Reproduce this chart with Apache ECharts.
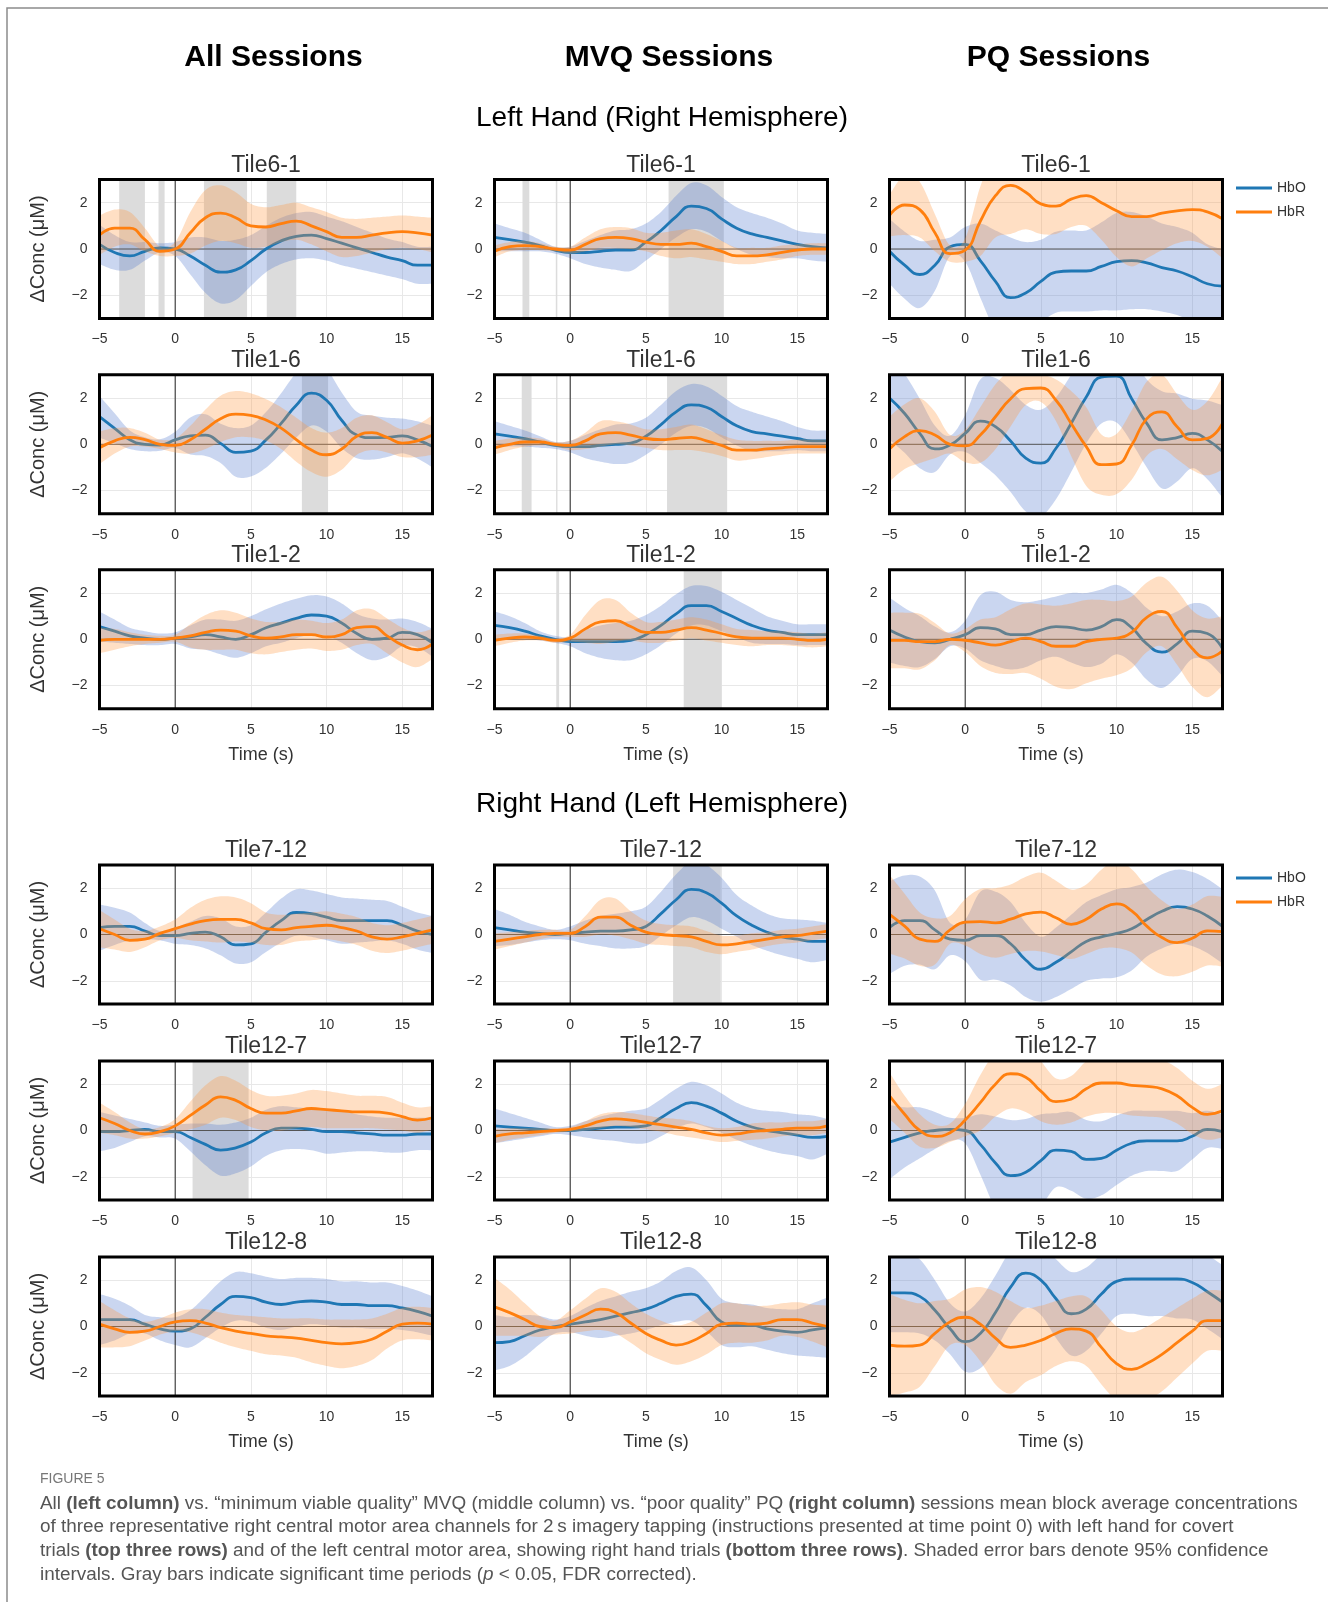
<!DOCTYPE html>
<html>
<head>
<meta charset="utf-8">
<script src="https://cdn.jsdelivr.net/npm/echarts@6/dist/echarts.min.js"></script>
<style>html,body{margin:0;padding:0;background:#fff;}#chart{width:1328px;height:1602px;}</style>
</head>
<body>
<div id="chart"></div>
<script>
// ---------- axes / labels ----------
const times = [-5,-4,-3,-2,-1,0,1,2,3,4,5,6,7,8,9,10,11,12,13,14,15,16,17];
const xTicks = [-5,0,5,10,15];
const yTicks = [-2,0,2];
const xMin = -5, xMax = 17, yMin = -3, yMax = 3;
const colTitles = ['All Sessions','MVQ Sessions','PQ Sessions'];
const sectionTitles = ['Left Hand (Right Hemisphere)','Right Hand (Left Hemisphere)'];
const rowTiles = ['Tile6-1','Tile1-6','Tile1-2','Tile7-12','Tile12-7','Tile12-8'];
const seriesNames = ['HbO','HbR'];

// ---------- Left hand, All sessions ----------
const lAll61Hbo   = [0.2,-0.15,-0.3,-0.1,0.05,0.0,-0.3,-0.7,-1.0,-0.9,-0.5,0.0,0.35,0.55,0.6,0.45,0.25,0.05,-0.15,-0.35,-0.5,-0.7,-0.7];
const lAll61HboCi = [0.85,0.75,0.6,0.4,0.2,0.3,0.8,1.2,1.35,1.3,1.1,1.0,1.0,1.0,1.0,0.95,0.95,0.9,0.85,0.8,0.8,0.8,0.8];
const lAll61Hbr   = [0.6,0.9,0.9,0.4,-0.1,0.0,0.7,1.35,1.55,1.35,1.0,0.95,1.1,1.2,1.0,0.75,0.5,0.5,0.6,0.7,0.75,0.7,0.6];
const lAll61HbrCi = [0.85,0.8,0.7,0.5,0.2,0.3,0.9,1.2,1.2,1.1,0.95,0.85,0.8,0.8,0.8,0.85,0.85,0.8,0.75,0.7,0.7,0.7,0.75];
const lAll61Bars  = [[-3.7,-2.0],[-1.1,-0.7],[1.9,4.75],[6.05,8.0]];

const lAll16Hbo   = [1.19,0.69,0.2,0.0,-0.03,0.19,0.36,0.4,0.04,-0.35,-0.29,0.19,0.9,1.69,2.21,1.9,1.04,0.4,0.29,0.3,0.36,0.19,-0.1];
const lAll16HboCi = [0.9,0.65,0.4,0.3,0.25,0.35,0.8,0.9,0.85,1.05,1.1,1.2,1.3,1.4,1.4,1.35,1.2,1.0,0.95,0.85,0.75,0.8,0.9];
const lAll16Hbr   = [-0.15,0.15,0.3,0.2,0.0,-0.05,0.2,0.65,1.1,1.3,1.25,1.05,0.7,0.2,-0.25,-0.45,-0.2,0.35,0.5,0.3,0.05,0.15,0.4];
const lAll16HbrCi = [0.7,0.55,0.4,0.3,0.2,0.3,0.6,0.85,1.0,1.0,0.95,0.9,0.9,0.95,0.95,0.95,0.9,0.8,0.75,0.65,0.6,0.7,0.85];
const lAll16Bars  = [[8.37,10.1]];

const lAll12Hbo   = [0.55,0.35,0.15,0.05,0.0,0.05,0.1,0.2,0.1,0.0,0.2,0.5,0.7,0.9,1.05,1.0,0.7,0.25,0.0,0.05,0.3,0.2,-0.15];
const lAll12HboCi = [0.65,0.5,0.35,0.3,0.25,0.25,0.5,0.65,0.75,0.8,0.8,0.8,0.85,0.85,0.85,0.85,0.85,0.85,0.9,0.8,0.6,0.55,0.6];
const lAll12Hbr   = [-0.05,0.0,0.0,0.0,0.0,0.05,0.15,0.3,0.4,0.35,0.15,0.05,0.1,0.2,0.2,0.1,0.2,0.5,0.55,0.15,-0.25,-0.45,-0.2];
const lAll12HbrCi = [0.55,0.45,0.3,0.2,0.15,0.15,0.5,0.75,0.85,0.8,0.75,0.7,0.65,0.65,0.6,0.6,0.65,0.75,0.75,0.75,0.75,0.75,0.65];
const lAll12Bars  = [];

// ---------- Left hand, MVQ sessions ----------
const lMvq61Hbo   = [0.5,0.4,0.3,0.15,-0.05,-0.15,-0.15,-0.1,-0.05,-0.05,0.3,0.8,1.4,1.85,1.75,1.3,0.9,0.65,0.5,0.35,0.2,0.1,0.05];
const lMvq61HboCi = [0.6,0.5,0.4,0.25,0.15,0.25,0.5,0.7,0.85,0.9,0.8,0.8,0.9,1.0,1.0,0.95,0.9,0.9,0.85,0.75,0.6,0.6,0.6];
const lMvq61Hbr   = [-0.1,0.1,0.15,0.1,0.0,-0.05,0.2,0.45,0.5,0.45,0.3,0.2,0.2,0.25,0.1,-0.1,-0.3,-0.3,-0.25,-0.15,-0.05,0.0,0.0];
const lMvq61HbrCi = [0.25,0.2,0.2,0.15,0.1,0.15,0.3,0.4,0.45,0.45,0.4,0.5,0.6,0.6,0.55,0.45,0.35,0.35,0.3,0.3,0.25,0.25,0.25];
const lMvq61Bars  = [[-3.15,-2.7],[-0.95,-0.85],[6.5,10.15]];

const lMvq16Hbo   = [0.45,0.35,0.25,0.1,-0.05,-0.1,-0.1,-0.05,0.0,0.05,0.35,0.85,1.4,1.7,1.6,1.2,0.8,0.55,0.45,0.35,0.25,0.15,0.15];
const lMvq16HboCi = [0.55,0.45,0.35,0.25,0.15,0.25,0.5,0.7,0.85,0.85,0.8,0.85,0.9,0.9,0.9,0.9,0.85,0.85,0.75,0.65,0.5,0.45,0.45];
const lMvq16Hbr   = [-0.15,0.0,0.1,0.1,0.0,-0.05,0.15,0.45,0.5,0.4,0.25,0.2,0.25,0.3,0.15,-0.05,-0.25,-0.25,-0.2,-0.15,-0.1,-0.1,-0.1];
const lMvq16HbrCi = [0.3,0.25,0.2,0.15,0.1,0.2,0.35,0.55,0.5,0.45,0.4,0.45,0.5,0.55,0.5,0.45,0.45,0.4,0.35,0.3,0.3,0.3,0.3];
const lMvq16Bars  = [[-3.2,-2.55],[-0.93,-0.84],[6.4,10.37]];

const lMvq12Hbo   = [0.6,0.5,0.35,0.15,0.0,-0.1,-0.1,-0.1,-0.1,-0.05,0.2,0.6,1.1,1.45,1.45,1.2,0.9,0.6,0.4,0.3,0.2,0.2,0.2];
const lMvq12HboCi = [0.6,0.5,0.35,0.2,0.15,0.2,0.5,0.7,0.8,0.85,0.85,0.85,0.85,0.85,0.85,0.85,0.8,0.75,0.6,0.5,0.45,0.45,0.45];
const lMvq12Hbr   = [-0.05,0.05,0.1,0.05,-0.05,0.05,0.45,0.75,0.8,0.55,0.3,0.3,0.4,0.5,0.4,0.25,0.1,0.05,0.05,0.05,0.0,-0.05,0.0];
const lMvq12HbrCi = [0.25,0.2,0.15,0.1,0.1,0.15,0.6,0.95,0.9,0.6,0.45,0.45,0.45,0.45,0.45,0.4,0.35,0.35,0.3,0.3,0.3,0.3,0.3];
const lMvq12Bars  = [[-0.92,-0.73],[7.5,10.0]];

// ---------- Left hand, PQ sessions ----------
const lPq61Hbo    = [-0.1,-0.7,-1.1,-0.7,0.1,0.2,-0.5,-1.4,-2.1,-1.9,-1.4,-1.0,-0.95,-0.95,-0.75,-0.55,-0.5,-0.6,-0.8,-0.95,-1.2,-1.5,-1.6];
const lPq61HboCi  = [1.4,1.45,1.45,1.1,0.4,0.75,1.6,2.2,2.6,2.2,1.8,1.75,1.75,1.75,1.9,2.1,2.1,2.0,1.9,1.9,1.9,1.7,1.6];
const lPq61Hbr    = [1.45,1.9,1.7,0.7,-0.2,-0.05,1.2,2.3,2.75,2.45,1.95,1.85,2.15,2.3,2.0,1.65,1.4,1.4,1.55,1.65,1.7,1.6,1.3];
const lPq61HbrCi  = [0.9,1.3,1.2,0.8,0.35,0.5,1.5,1.8,2.1,1.6,1.3,1.2,1.2,1.3,1.6,2.0,2.15,1.8,1.6,1.4,1.35,1.5,1.7];
const lPq61Bars   = [];

const lPq16Hbo    = [2.0,1.33,0.47,-0.2,-0.03,0.47,1.0,0.76,0.14,-0.6,-0.81,-0.17,0.9,2.04,2.9,2.94,1.97,0.9,0.19,0.29,0.47,0.19,-0.31];
const lPq16HboCi  = [1.8,1.7,1.5,1.0,0.4,0.8,1.8,2.1,2.2,2.3,2.3,2.2,2.1,2.0,2.0,2.0,1.9,1.9,2.1,1.9,1.5,1.7,2.0];
const lPq16Hbr    = [-0.2,0.33,0.59,0.4,0.0,-0.07,0.4,1.19,1.97,2.4,2.43,1.9,0.9,-0.1,-0.88,-0.85,-0.03,1.11,1.4,0.76,0.19,0.26,0.9];
const lPq16HbrCi  = [1.4,1.4,1.4,1.0,0.4,0.7,1.2,1.4,1.2,0.7,0.6,0.9,1.4,1.7,1.3,1.3,1.5,1.6,1.6,1.4,1.3,1.6,2.0];
const lPq16Bars   = [];

const lPq12Hbo    = [0.4,0.1,-0.1,-0.15,0.0,0.2,0.5,0.45,0.2,0.2,0.4,0.55,0.5,0.4,0.55,0.85,0.5,-0.2,-0.55,-0.2,0.35,0.25,-0.4];
const lPq12HboCi  = [1.4,1.25,1.1,0.7,0.3,0.6,1.4,1.6,1.5,1.4,1.3,1.3,1.5,1.6,1.6,1.5,1.5,1.55,1.55,1.4,1.2,1.2,1.2];
const lPq12Hbr    = [-0.05,-0.05,-0.1,-0.1,0.0,-0.05,-0.15,-0.25,-0.1,0.05,-0.1,-0.3,-0.3,-0.1,0.0,0.05,0.3,0.95,1.2,0.5,-0.4,-0.8,-0.5];
const lPq12HbrCi  = [1.2,1.2,1.2,0.8,0.25,0.5,1.0,1.2,1.4,1.5,1.6,1.75,1.85,1.8,1.7,1.6,1.55,1.5,1.5,1.6,1.65,1.7,1.5];
const lPq12Bars   = [];

// ---------- Right hand, All sessions ----------
const rAll712Hbo   = [0.3,0.35,0.35,0.15,-0.05,-0.05,0.05,0.1,-0.1,-0.45,-0.4,0.1,0.6,0.95,0.9,0.75,0.6,0.6,0.6,0.6,0.4,0.15,0.0];
const rAll712HboCi = [1.0,0.8,0.6,0.35,0.2,0.35,0.5,0.7,0.8,0.8,0.8,0.85,0.95,1.0,1.0,1.0,1.0,0.95,0.9,0.85,0.8,0.8,0.8];
const rAll712Hbr   = [0.25,0.0,-0.25,-0.2,0.05,0.25,0.45,0.6,0.65,0.65,0.5,0.25,0.2,0.3,0.35,0.4,0.3,0.15,-0.1,-0.2,-0.1,0.05,0.2];
const rAll712HbrCi = [0.8,0.65,0.5,0.35,0.3,0.4,0.7,0.9,1.0,0.95,0.85,0.7,0.65,0.6,0.6,0.6,0.6,0.6,0.6,0.6,0.6,0.6,0.6];
const rAll712Bars  = [];

const rAll127Hbo   = [-0.05,-0.05,0.0,0.05,-0.05,-0.05,-0.3,-0.6,-0.85,-0.75,-0.5,-0.1,0.1,0.1,0.05,-0.05,-0.05,-0.1,-0.15,-0.2,-0.2,-0.15,-0.15];
const rAll127HboCi = [0.85,0.7,0.5,0.3,0.25,0.3,0.6,0.9,1.1,1.1,1.05,1.0,0.95,0.9,0.9,0.95,0.9,0.8,0.75,0.75,0.75,0.7,0.7];
const rAll127Hbr   = [0.55,0.3,0.0,-0.15,-0.05,0.2,0.65,1.1,1.45,1.3,0.95,0.75,0.75,0.85,0.95,0.9,0.85,0.8,0.8,0.75,0.6,0.45,0.55];
const rAll127HbrCi = [0.65,0.5,0.35,0.2,0.2,0.3,0.6,0.85,0.9,0.85,0.8,0.75,0.75,0.75,0.8,0.8,0.75,0.7,0.7,0.7,0.6,0.55,0.5];
const rAll127Bars  = [[1.15,4.85]];

const rAll128Hbo   = [0.3,0.3,0.3,0.1,-0.1,-0.2,-0.1,0.4,0.95,1.3,1.25,1.05,0.95,1.05,1.1,1.05,0.95,0.95,0.9,0.9,0.8,0.65,0.45];
const rAll128HboCi = [1.1,0.9,0.6,0.4,0.5,0.6,0.8,0.9,1.0,1.05,1.05,1.1,1.1,1.05,1.0,1.0,1.0,1.0,1.0,1.0,0.95,0.9,0.85];
const rAll128Hbr   = [0.1,-0.1,-0.25,-0.2,0.0,0.2,0.25,0.15,-0.05,-0.2,-0.3,-0.4,-0.45,-0.5,-0.6,-0.7,-0.75,-0.7,-0.55,-0.2,0.1,0.15,0.1];
const rAll128HbrCi = [1.0,0.8,0.6,0.4,0.35,0.4,0.5,0.6,0.65,0.7,0.75,0.8,0.8,0.85,0.95,1.0,1.05,1.0,0.9,0.75,0.7,0.7,0.7];
const rAll128Bars  = [];

// ---------- Right hand, MVQ sessions ----------
const rMvq712Hbo   = [0.3,0.2,0.1,0.05,0.0,0.05,0.1,0.15,0.15,0.2,0.35,0.9,1.5,1.95,1.8,1.35,0.8,0.4,0.1,-0.1,-0.2,-0.3,-0.3];
const rMvq712HboCi = [0.8,0.65,0.45,0.3,0.2,0.3,0.5,0.65,0.75,0.8,0.85,0.95,1.1,1.2,1.2,1.1,0.9,0.85,0.8,0.8,0.85,0.9,0.8];
const rMvq712Hbr   = [-0.3,-0.2,-0.1,0.0,0.05,0.05,0.35,0.75,0.75,0.4,0.1,0.0,-0.05,-0.1,-0.3,-0.45,-0.4,-0.3,-0.2,-0.1,-0.05,0.05,0.15];
const rMvq712HbrCi = [0.35,0.3,0.25,0.2,0.15,0.15,0.45,0.75,0.8,0.6,0.5,0.45,0.45,0.45,0.45,0.4,0.35,0.35,0.3,0.3,0.3,0.3,0.3];
const rMvq712Bars  = [[6.8,9.95]];

const rMvq127Hbo   = [0.2,0.15,0.1,0.05,0.0,0.0,0.05,0.1,0.15,0.15,0.2,0.55,0.95,1.2,1.05,0.75,0.4,0.15,0.0,-0.1,-0.2,-0.3,-0.25];
const rMvq127HboCi = [0.75,0.6,0.45,0.3,0.15,0.2,0.35,0.5,0.6,0.7,0.75,0.8,0.85,0.9,0.9,0.85,0.8,0.8,0.85,0.9,0.9,0.95,0.75];
const rMvq127Hbr   = [-0.25,-0.15,-0.1,-0.05,0.0,0.05,0.2,0.4,0.5,0.45,0.35,0.25,0.15,0.05,-0.1,-0.2,-0.15,-0.05,0.0,0.05,0.1,0.1,0.2];
const rMvq127HbrCi = [0.3,0.25,0.2,0.15,0.1,0.1,0.2,0.3,0.3,0.3,0.3,0.3,0.35,0.35,0.3,0.3,0.3,0.35,0.35,0.3,0.3,0.3,0.3];
const rMvq127Bars  = [];

const rMvq128Hbo   = [-0.7,-0.65,-0.4,-0.15,0.0,0.1,0.2,0.3,0.45,0.6,0.75,1.0,1.3,1.4,0.9,0.2,0.05,0.05,-0.1,-0.2,-0.25,-0.15,-0.05];
const rMvq128HboCi = [1.2,1.05,0.9,0.6,0.3,0.35,0.6,0.8,0.85,0.9,0.9,0.95,1.1,1.15,1.1,1.0,0.95,0.9,0.9,0.95,1.0,1.15,1.3];
const rMvq128Hbr   = [0.85,0.6,0.3,0.0,-0.05,0.2,0.5,0.75,0.6,0.15,-0.3,-0.6,-0.8,-0.65,-0.3,0.1,0.15,0.1,0.15,0.3,0.3,0.15,0.0];
const rMvq128HbrCi = [1.25,1.0,0.7,0.45,0.3,0.5,0.7,0.9,0.9,0.85,0.85,0.85,0.85,0.85,0.9,0.9,0.85,0.8,0.75,0.7,0.75,0.8,0.9];
const rMvq128Bars  = [];

// ---------- Right hand, PQ sessions ----------
const rPq712Hbo    = [0.3,0.6,0.6,0.2,-0.2,-0.25,-0.05,-0.05,-0.4,-1.1,-1.5,-1.2,-0.75,-0.3,-0.1,0.05,0.25,0.65,1.0,1.2,1.1,0.8,0.35];
const rPq712HboCi  = [2.0,1.95,1.9,1.7,0.7,0.9,1.9,1.9,1.8,1.6,1.4,1.5,1.6,1.7,1.8,1.9,1.8,1.6,1.6,1.6,1.6,1.6,1.6];
const rPq712Hbr    = [0.87,0.36,-0.2,-0.3,0.2,0.53,0.56,0.5,0.66,0.89,0.97,0.72,0.44,0.66,1.1,1.32,1.02,0.36,-0.13,-0.35,-0.16,0.16,0.12];
const rPq712HbrCi  = [1.7,1.4,1.15,1.0,0.6,1.0,1.4,1.5,1.5,1.6,1.7,1.6,1.5,1.5,1.7,1.9,1.8,1.7,1.6,1.45,1.45,1.5,1.5];
const rPq712Bars   = [];

const rPq127Hbo    = [-0.5,-0.3,-0.1,0.0,0.05,0.0,-0.6,-1.4,-1.95,-1.8,-1.3,-0.85,-0.9,-1.25,-1.2,-0.85,-0.55,-0.45,-0.45,-0.45,-0.25,0.05,-0.05];
const rPq127HboCi  = [1.6,1.3,1.1,0.8,0.5,0.55,1.3,2.0,2.4,2.3,2.0,1.6,1.7,1.7,1.6,1.5,1.4,1.3,1.3,1.3,1.0,0.8,0.75];
const rPq127Hbr    = [1.5,0.7,0.0,-0.25,-0.1,0.45,1.2,2.0,2.45,2.3,1.7,1.25,1.35,1.8,2.05,2.05,1.95,1.9,1.8,1.5,1.0,0.7,0.85];
const rPq127HbrCi  = [1.0,0.8,0.7,0.5,0.4,0.7,1.2,1.4,1.5,1.5,1.3,1.0,1.0,1.2,1.3,1.3,1.3,1.3,1.25,1.2,1.15,1.1,1.15];
const rPq127Bars   = [];

const rPq128Hbo    = [1.45,1.45,1.3,0.7,-0.1,-0.65,-0.3,0.6,1.7,2.3,2.0,1.2,0.55,0.75,1.4,1.95,2.05,2.05,2.05,2.05,1.9,1.5,1.05];
const rPq128HboCi  = [1.7,1.7,1.6,1.3,1.1,1.3,1.5,1.6,1.6,1.5,1.5,1.7,1.8,1.8,1.7,1.5,1.5,1.6,1.6,1.7,1.6,1.6,1.6];
const rPq128Hbr    = [-0.8,-0.85,-0.8,-0.3,0.2,0.4,0.1,-0.5,-0.9,-0.8,-0.6,-0.3,-0.1,-0.2,-0.9,-1.6,-1.85,-1.6,-1.2,-0.7,-0.2,0.25,0.25];
const rPq128HbrCi  = [2.2,2.0,1.8,1.4,1.0,1.2,1.6,2.0,2.0,1.6,1.5,1.4,1.4,1.5,1.6,1.6,1.6,1.6,1.6,1.5,1.4,1.3,1.3];
const rPq128Bars   = [];

// panel table (row-major: 6 rows x 3 columns)
const panels = [
  [lAll61Hbo,lAll61HboCi,lAll61Hbr,lAll61HbrCi,lAll61Bars],
  [lMvq61Hbo,lMvq61HboCi,lMvq61Hbr,lMvq61HbrCi,lMvq61Bars],
  [lPq61Hbo,lPq61HboCi,lPq61Hbr,lPq61HbrCi,lPq61Bars],
  [lAll16Hbo,lAll16HboCi,lAll16Hbr,lAll16HbrCi,lAll16Bars],
  [lMvq16Hbo,lMvq16HboCi,lMvq16Hbr,lMvq16HbrCi,lMvq16Bars],
  [lPq16Hbo,lPq16HboCi,lPq16Hbr,lPq16HbrCi,lPq16Bars],
  [lAll12Hbo,lAll12HboCi,lAll12Hbr,lAll12HbrCi,lAll12Bars],
  [lMvq12Hbo,lMvq12HboCi,lMvq12Hbr,lMvq12HbrCi,lMvq12Bars],
  [lPq12Hbo,lPq12HboCi,lPq12Hbr,lPq12HbrCi,lPq12Bars],
  [rAll712Hbo,rAll712HboCi,rAll712Hbr,rAll712HbrCi,rAll712Bars],
  [rMvq712Hbo,rMvq712HboCi,rMvq712Hbr,rMvq712HbrCi,rMvq712Bars],
  [rPq712Hbo,rPq712HboCi,rPq712Hbr,rPq712HbrCi,rPq712Bars],
  [rAll127Hbo,rAll127HboCi,rAll127Hbr,rAll127HbrCi,rAll127Bars],
  [rMvq127Hbo,rMvq127HboCi,rMvq127Hbr,rMvq127HbrCi,rMvq127Bars],
  [rPq127Hbo,rPq127HboCi,rPq127Hbr,rPq127HbrCi,rPq127Bars],
  [rAll128Hbo,rAll128HboCi,rAll128Hbr,rAll128HbrCi,rAll128Bars],
  [rMvq128Hbo,rMvq128HboCi,rMvq128Hbr,rMvq128HbrCi,rMvq128Bars],
  [rPq128Hbo,rPq128HboCi,rPq128Hbr,rPq128HbrCi,rPq128Bars]
];

// ---------- layout & style ----------
const FONT = 'Liberation Sans, Arial, sans-serif';
const BLUE = '#1f77b4', ORANGE = '#ff7f0e';
const BLUE_BAND = 'rgba(80,120,205,0.30)', ORANGE_BAND = 'rgba(255,150,60,0.30)';
const colLefts = [99.5, 494.5, 889.5];
const gridW = 333, gridH = 139;
const rowTops = [179.5, 374.8, 569.8, 865, 1061, 1257];
const LINE_W = 2.8;
const TITLE_FS = 23;

const fmt = v => v < 0 ? '\u2212' + Math.abs(v) : String(v);

function smoothPts(pts) {
  const out = [], n = pts.length;
  for (let i = 0; i < n - 1; i++) {
    const p0 = pts[Math.max(i - 1, 0)], p1 = pts[i], p2 = pts[i + 1], p3 = pts[Math.min(i + 2, n - 1)];
    const c1 = [p1[0] + (p2[0] - p0[0]) / 6, p1[1] + (p2[1] - p0[1]) / 6];
    const c2 = [p2[0] - (p3[0] - p1[0]) / 6, p2[1] - (p3[1] - p1[1]) / 6];
    for (let j = 0; j < 8; j++) {
      const t = j / 8, u = 1 - t;
      const a = u*u*u, b = 3*u*u*t, c = 3*u*t*t, d = t*t*t;
      out.push([a*p1[0] + b*c1[0] + c*c2[0] + d*p2[0], a*p1[1] + b*c1[1] + c*c2[1] + d*p2[1]]);
    }
  }
  out.push(pts[n - 1]);
  return out;
}
function bandRenderer(fill) {
  return function (params, api) {
    if (params.dataIndexInside !== 0) return null;
    const n = params.dataInsideLength;
    const up = [], lo = [];
    for (let k = 0; k < n; k++) {
      const t = api.value(0, k), m = api.value(1, k), c = api.value(2, k);
      up.push(api.coord([t, m + c]));
      lo.push(api.coord([t, m - c]));
    }
    const pts = smoothPts(up).concat(smoothPts(lo).reverse());
    return { type: 'polygon', shape: { points: pts }, style: { fill: fill } };
  };
}

const grids = [], xAxes = [], yAxes = [], series = [], graphics = [], titles = [];

panels.forEach((p, i) => {
  const [hbo, hboCi, hbr, hbrCi, bars] = p;
  const r = Math.floor(i / 3), c = i % 3;
  const left = colLefts[c], top = rowTops[r];
  grids.push({ left, top, width: gridW, height: gridH, show: true, borderColor: '#000', borderWidth: 3,
               backgroundColor: 'rgba(0,0,0,0)', z: 10 });
  xAxes.push({ gridIndex: i, type: 'value', min: xMin, max: xMax, interval: 5,
    axisLine: { show: false }, axisTick: { show: false },
    axisLabel: { color: '#333', fontSize: 14, lineHeight: 14, fontFamily: FONT, margin: 14, formatter: v => xTicks.includes(v) ? fmt(v) : '' },
    splitLine: { show: true, lineStyle: { color: '#e8e8e8', width: 1 } } });
  yAxes.push({ gridIndex: i, type: 'value', min: yMin, max: yMax, interval: 1,
    axisLine: { show: false }, axisTick: { show: false },
    axisLabel: { color: '#333', fontSize: 14, fontFamily: FONT, margin: 12, formatter: v => yTicks.includes(v) ? fmt(v) : '' },
    splitLine: { show: true, lineStyle: { color: ['rgba(0,0,0,0)', '#e8e8e8'], width: 1 } } });

  if (bars.length) {
    series.push({ type: 'custom', xAxisIndex: i, yAxisIndex: i, z: 1, silent: true, clip: true, data: bars,
      renderItem: (params, api) => {
        const a = api.coord([api.value(0), yMax]);
        const b = api.coord([api.value(1), yMin]);
        return { type: 'rect', shape: { x: a[0], y: a[1], width: b[0] - a[0], height: b[1] - a[1] }, style: { fill: '#dcdcdc' } };
      } });
  }
  series.push({ type: 'custom', xAxisIndex: i, yAxisIndex: i, z: 2, silent: true, clip: true,
    data: times.map((t, k) => [t, hbo[k], hboCi[k]]), renderItem: bandRenderer(BLUE_BAND) });
  series.push({ type: 'custom', xAxisIndex: i, yAxisIndex: i, z: 3, silent: true, clip: true, data: [[0, 0]],
    renderItem: (params, api) => {
      const a = api.coord([xMin, 0]), b = api.coord([xMax, 0]);
      const cc = api.coord([0, yMax]), d = api.coord([0, yMin]);
      return { type: 'group', children: [
        { type: 'line', shape: { x1: a[0], y1: a[1], x2: b[0], y2: b[1] }, style: { stroke: '#555', lineWidth: 1 } },
        { type: 'line', shape: { x1: cc[0], y1: cc[1], x2: d[0], y2: d[1] }, style: { stroke: '#222', lineWidth: 1 } }
      ] };
    } });
  series.push({ type: 'line', name: seriesNames[0], xAxisIndex: i, yAxisIndex: i, z: 4, silent: true, symbol: 'none',
    smooth: 0.5, data: times.map((t, k) => [t, hbo[k]]), lineStyle: { color: BLUE, width: LINE_W }, itemStyle: { color: BLUE } });
  series.push({ type: 'custom', xAxisIndex: i, yAxisIndex: i, z: 5, silent: true, clip: true,
    data: times.map((t, k) => [t, hbr[k], hbrCi[k]]), renderItem: bandRenderer(ORANGE_BAND) });
  series.push({ type: 'line', name: seriesNames[1], xAxisIndex: i, yAxisIndex: i, z: 6, silent: true, symbol: 'none',
    smooth: 0.5, data: times.map((t, k) => [t, hbr[k]]), lineStyle: { color: ORANGE, width: LINE_W }, itemStyle: { color: ORANGE } });

  // panel title (title component, centred over its grid)
  titles.push({ text: rowTiles[r], left: left + gridW / 2, top: top - 14 - TITLE_FS / 2, textAlign: 'center', padding: 0,
    textStyle: { fontSize: TITLE_FS, fontWeight: 'normal', fontFamily: FONT, color: '#333', lineHeight: TITLE_FS } });
  if (c === 0) {
    graphics.push({ type: 'text', x: 38, y: top + gridH / 2, rotation: Math.PI / 2, silent: true,
      style: { text: '\u0394Conc (\u03bcM)', fontSize: 20, fontFamily: FONT, fill: '#333', align: 'center', verticalAlign: 'middle' } });
  }
  if (r === 2 || r === 5) {
    graphics.push({ type: 'text', x: left + gridW / 2 - 5, y: top + gridH + 46, silent: true,
      style: { text: 'Time (s)', fontSize: 18, fontFamily: FONT, fill: '#333', align: 'center', verticalAlign: 'middle' } });
  }
});

// column headers & section titles
const headerX = [273.5, 669, 1058.5];
colTitles.forEach((t, c) => graphics.push({ type: 'text', x: headerX[c], y: 58, silent: true,
  style: { text: t, fontSize: 30, fontWeight: 'bold', fontFamily: FONT, fill: '#000', align: 'center', verticalAlign: 'middle' } }));
graphics.push({ type: 'text', x: 662, y: 118.5, silent: true,
  style: { text: sectionTitles[0], fontSize: 28, fontFamily: FONT, fill: '#000', align: 'center', verticalAlign: 'middle' } });
graphics.push({ type: 'text', x: 662, y: 804, silent: true,
  style: { text: sectionTitles[1], fontSize: 28, fontFamily: FONT, fill: '#000', align: 'center', verticalAlign: 'middle' } });

// frame
graphics.push({ type: 'polyline', silent: true, shape: { points: [[7, 1602], [7, 8], [1328, 8]] },
  style: { stroke: '#8c8c8c', lineWidth: 1.5, fill: null } });

// caption
const CAP_FS = 18.9;
const capStyle = { fontSize: CAP_FS, fontFamily: FONT, fill: '#555' };
const capRich = {
  b: { fontSize: CAP_FS, fontFamily: FONT, fill: '#555', fontWeight: 'bold' },
  i: { fontSize: CAP_FS, fontFamily: FONT, fill: '#555', fontStyle: 'italic' }
};
graphics.push({ type: 'text', x: 40, y: 1479, silent: true,
  style: { text: 'FIGURE 5', fontSize: 14, fontFamily: FONT, fill: '#777', align: 'left', verticalAlign: 'middle' } });
const capLines = [
  'All {b|(left column)} vs. \u201cminimum viable quality\u201d MVQ (middle column) vs. \u201cpoor quality\u201d PQ {b|(right column)} sessions mean block average concentrations',
  'of three representative right central motor area channels for 2\u2009s imagery tapping (instructions presented at time point 0) with left hand for covert',
  'trials {b|(top three rows)} and of the left central motor area, showing right hand trials {b|(bottom three rows)}. Shaded error bars denote 95% confidence',
  'intervals. Gray bars indicate significant time periods ({i|p} < 0.05, FDR corrected).'
];
const capY = [1503.5, 1527, 1551, 1574.5];
capLines.forEach((t, k) => graphics.push({ type: 'text', x: 40, y: capY[k], silent: true,
  style: Object.assign({ text: t, rich: capRich, align: 'left', verticalAlign: 'middle' }, capStyle) }));

const legendBase = {
  data: seriesNames, orient: 'vertical', icon: 'rect', itemWidth: 36, itemHeight: 3, itemGap: 10, left: 1231,
  textStyle: { fontSize: 14, fontFamily: FONT, color: '#333' }, selectedMode: false
};

const chart = echarts.init(document.getElementById('chart'), null, { renderer: 'canvas' });
chart.setOption({
  animation: false,
  backgroundColor: '#fff',
  textStyle: { fontFamily: FONT },
  title: titles,
  grid: grids,
  xAxis: xAxes,
  yAxis: yAxes,
  legend: [Object.assign({ top: 176 }, legendBase), Object.assign({ top: 866 }, legendBase)],
  series: series,
  graphic: graphics
});
</script>
</body>
</html>
